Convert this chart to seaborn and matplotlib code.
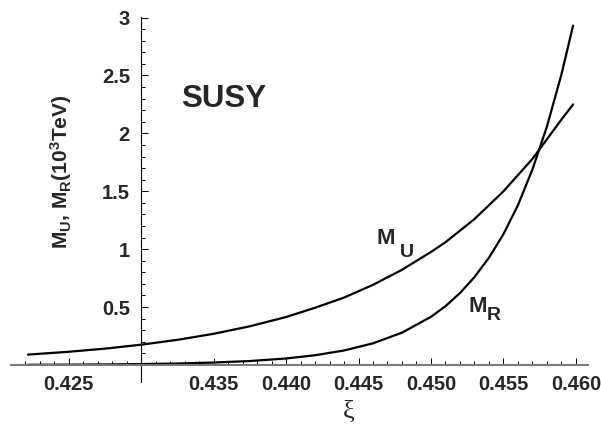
import numpy as np
import pandas as pd
import matplotlib
matplotlib.use('Agg')
import matplotlib.pyplot as plt
import seaborn as sns
from matplotlib.ticker import FixedLocator, FuncFormatter

# xi 값
xi = [0.4222, 0.425, 0.4275, 0.430, 0.4325, 0.435, 0.4375, 0.440, 0.442, 0.444,
      0.446, 0.448, 0.450, 0.451, 0.452, 0.453, 0.454, 0.455, 0.456, 0.457,
      0.458, 0.459, 0.4598]
# M_U (10^3 TeV)
m_u = [0.0895, 0.114, 0.141, 0.175, 0.217, 0.269, 0.334, 0.414, 0.494, 0.582,
       0.692, 0.822, 0.976, 1.06, 1.16, 1.26, 1.38, 1.50, 1.64, 1.78,
       1.95, 2.12, 2.25]
# M_R (10^3 TeV)
m_r = [0.0016, 0.0028, 0.0046, 0.0076, 0.0125, 0.021, 0.034, 0.056, 0.084, 0.125,
       0.187, 0.279, 0.416, 0.508, 0.621, 0.759, 0.927, 1.13, 1.38, 1.69,
       2.06, 2.51, 2.93]

x_major = [0.425, 0.430, 0.435, 0.440, 0.445, 0.450, 0.455, 0.460]
y_major = [0.5, 1, 1.5, 2, 2.5, 3]

df = pd.DataFrame({'xi': xi, 'M_U': m_u, 'M_R': m_r})

sns.set_style('white')
plt.rcParams['font.family'] = ['Liberation Sans', 'DejaVu Sans']
plt.rcParams['font.weight'] = 'bold'
plt.rcParams['mathtext.default'] = 'regular'

fig = plt.figure(figsize=(6.01, 4.41), dpi=100)
ax = fig.add_axes([11/601, 1-382/441, 577/601, 365/441])

sns.lineplot(data=df, x='xi', y='M_U', color='black', lw=1.6, ax=ax)
sns.lineplot(data=df, x='xi', y='M_R', color='black', lw=1.6, ax=ax)

ax.set_xlim(0.42103, 0.46083)
ax.set_ylim(-0.147, 3.005)

# Mathematica 스타일 축 (원점에서 교차)
ax.spines['top'].set_visible(False)
ax.spines['right'].set_visible(False)
ax.spines['left'].set_position(('data', 0.43))
ax.spines['bottom'].set_position(('data', 0))
ax.spines['left'].set_color('black')
ax.spines['left'].set_linewidth(0.8)
ax.spines['bottom'].set_color('#777777')
ax.spines['bottom'].set_linewidth(1.4)

ax.xaxis.set_major_locator(FixedLocator(x_major))
ax.xaxis.set_minor_locator(FixedLocator(np.arange(0.422, 0.4605, 0.001)))
ax.xaxis.set_major_formatter(FuncFormatter(lambda v, p: '' if abs(v - 0.43) < 1e-6 else f'{v:.3f}'))
ax.yaxis.set_major_locator(FixedLocator(y_major))
ax.yaxis.set_minor_locator(FixedLocator(np.arange(0.1, 2.95, 0.1)))
ax.yaxis.set_major_formatter(FuncFormatter(lambda v, p: f'{v:g}'))

ax.tick_params(which='both', direction='in', color='black', width=0.7,
               bottom=True, left=True)
ax.tick_params(which='major', length=5, labelsize=14.5)
ax.tick_params(which='minor', length=3)
ax.tick_params(axis='y', pad=8)
ax.tick_params(axis='x', pad=7)

ax.set_xlabel('')
ax.set_ylabel('')

ax.text(0.4357, 2.224, 'SUSY', ha='center', va='baseline', size=22.5)
ax.text(0.4469, 1.043, 'M', ha='center', va='baseline', size=16)
ax.text(0.44831, 0.931, 'U', ha='center', va='baseline', size=14)
ax.text(0.45321, 0.457, 'M', ha='center', va='baseline', size=16)
ax.text(0.45434, 0.388, 'R', ha='center', va='baseline', size=14)

fig.text(61/601, 1-172/441, r'M$_U$, M$_R$(10$^3$TeV)', rotation=90,
         ha='center', va='center', size=15)
fig.text(349/601, 1-412/441, 'ξ', ha='center', va='center', size=19,
         family=['Liberation Serif', 'DejaVu Serif'], weight='normal')

fig.savefig('out.png', dpi=100)
